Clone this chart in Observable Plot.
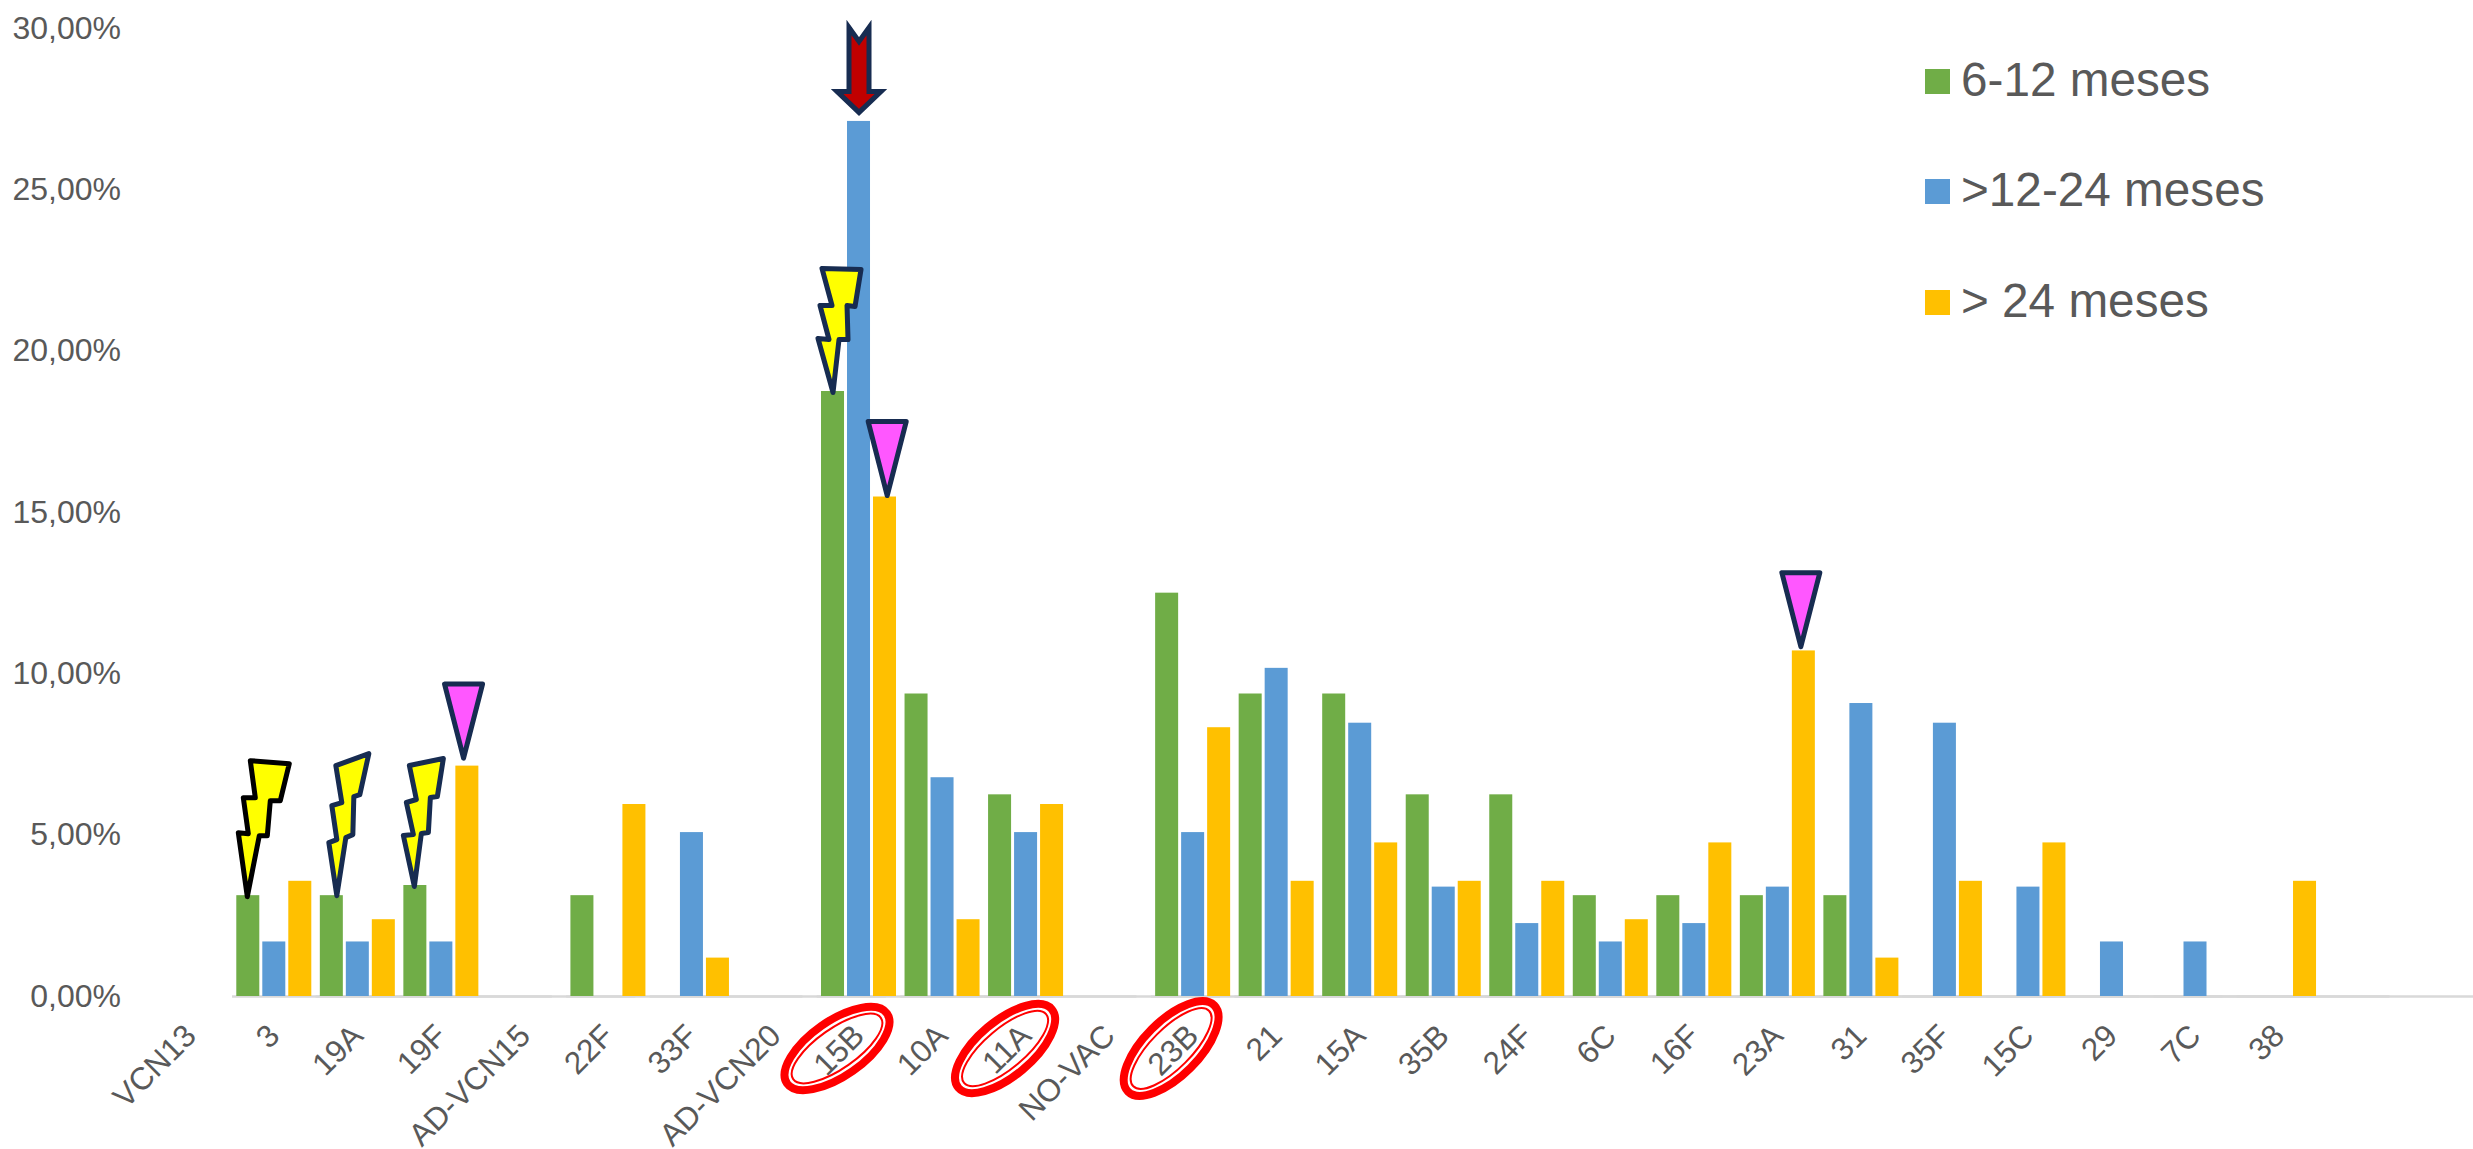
<!DOCTYPE html>
<html lang="es">
<head>
<meta charset="utf-8">
<title>Serotipos por grupo de edad</title>
<script src="https://cdn.jsdelivr.net/npm/d3@7"></script>
<script src="https://cdn.jsdelivr.net/npm/@observablehq/plot@0.6"></script>
<style>
  html, body { margin: 0; padding: 0; background: #fff; overflow: hidden; }
  #chart { position: relative; width: 2473px; height: 1149px; font-family: "Liberation Sans", Arial, sans-serif; }
  #chart svg { display: block; }
  .key { position: absolute; left: 1925px; display: flex; align-items: center; color: #595959; font-size: 47.7px; line-height: 1; white-space: pre; }
  .key i { display: block; width: 25px; height: 25px; margin-right: 11px; }
  .key span { position: relative; top: -2px; }
</style>
</head>
<body>
<div id="chart"></div>
<script>
// Serotypes along the x axis, grouped under their vaccine headings
const categories = ["VCN13", "3", "19A", "19F", "AD-VCN15", "22F", "33F", "AD-VCN20", "15B", "10A", "11A", "NO-VAC", "23B", "21", "15A", "35B", "24F", "6C", "16F", "23A", "31", "35F", "15C", "29", "7C", "38"];

// Share of isolates per age group, in percent
const age6to12 = [null, 3.125, 3.125, 3.44, null, 3.125, null, null, 18.75, 9.375, 6.25, null, 12.5, 9.375, 9.375, 6.25, 6.25, 3.125, 3.125, 3.125, 3.125, null, null, null, null, null];
const age12to24 = [null, 1.69, 1.69, 1.69, null, null, 5.08, null, 27.12, 6.78, 5.08, null, 5.08, 10.17, 8.47, 3.39, 2.26, 1.69, 2.26, 3.39, 9.08, 8.47, 3.39, 1.69, 1.69, null];
const ageOver24 = [null, 3.57, 2.38, 7.14, null, 5.95, 1.19, null, 15.48, 2.38, 5.95, null, 8.33, 3.57, 4.76, 3.57, 3.57, 2.38, 4.76, 10.71, 1.19, 3.57, 4.76, null, null, 3.57];

const seriesNames = ["6-12 meses", ">12-24 meses", "> 24 meses"];
const seriesColors = ["#70AD47", "#5B9BD5", "#FFC000"];
const yTicks = [0, 5, 10, 15, 20, 25, 30];

const rows = [age6to12, age12to24, ageOver24].flatMap((values, s) =>
  values.map((value, i) => ({category: categories[i], series: seriesNames[s], value}))
    .filter((d) => d.value !== null));

const percent = (v) => v.toFixed(2).replace(".", ",") + "%";
const valueOf = (category, series) => rows.find((d) => d.category === category && d.series === series).value;

// Custom symbols for the annotations; each one points at the origin of its dot
const polygon = (points) => ({
  draw(context) {
    points.forEach(([x, y], i) => (i ? context.lineTo(x, y) : context.moveTo(x, y)));
    context.closePath();
  }
});

const ellipse = (a, b, degrees) => ({
  draw(context) {
    const t = (degrees * Math.PI) / 180, k = 0.5523;
    const p = (x, y) => [x * Math.cos(t) - y * Math.sin(t), x * Math.sin(t) + y * Math.cos(t)];
    context.moveTo(...p(a, 0));
    context.bezierCurveTo(...p(a, k * b), ...p(k * a, b), ...p(0, b));
    context.bezierCurveTo(...p(-k * a, b), ...p(-a, k * b), ...p(-a, 0));
    context.bezierCurveTo(...p(-a, -k * b), ...p(-k * a, -b), ...p(0, -b));
    context.bezierCurveTo(...p(k * a, -b), ...p(a, -k * b), ...p(a, 0));
    context.closePath();
  }
});

const bolts = [
  {category: "3", stroke: "#000000", shape: [[2,-135],[41,-132],[32,-95],[22,-95],[19,-60],[11,-60],[-1,1],[-10,-63],[0,-62],[-5,-98],[7,-98]]},
  {category: "19A", stroke: "#172C51", shape: [[4,-130],[37,-142],[28,-101],[22,-99],[21,-61],[14,-58],[5,0],[-3,-53],[5,-56],[0,-90],[10,-93]]},
  {category: "19F", stroke: "#172C51", shape: [[-6,-120],[28,-127],[22,-89],[15,-88],[13,-53],[6,-52],[-1,1],[-12,-50],[-2,-51],[-9,-83],[1,-86]]},
  {category: "15B", stroke: "#172C51", shape: [[-11,-123],[28,-122],[22,-85],[14,-86],[15,-52],[6,-52],[0,1],[-15,-53],[-4,-52],[-13,-86],[-1,-86]]}
];

const wedges = [
  {category: "19F", dx: -3.8, dy: -8},
  {category: "15B", dx: 2.2, dy: -1.5},
  {category: "23A", dx: -3, dy: -4.2}
];

const circled = [
  {category: "15B", angle: -35, dx: -22},
  {category: "11A", angle: -40, dx: -21},
  {category: "23B", angle: -45, dx: -22}
];

const arrowShape = [[-10,-94],[0,-80],[10,-94],[10,-30],[22,-30],[0,-9],[-22,-30],[-10,-30]];

const ink = "#595959";

const plot = Plot.plot({
  width: 2473,
  height: 1149,
  marginLeft: 148.5,
  marginRight: 152.7,
  marginTop: 28,
  marginBottom: 153,
  style: {background: "#fff", fontFamily: "'Liberation Sans', Arial, sans-serif", overflow: "visible"},
  fx: {domain: categories, padding: 0, axis: null, label: null, round: false},
  x: {domain: seriesNames, paddingInner: 0.115, paddingOuter: 0.164, axis: null, round: false},
  y: {domain: [0, 30], axis: null, label: null},
  color: {domain: seriesNames, range: seriesColors},
  marks: [
    // Baseline repeated in every facet; the overhang carries it to the page edge
    Plot.ruleY([0], {stroke: "#D9D9D9", strokeWidth: 2.5, insetRight: -152.7}),
    Plot.barY(rows, {fx: "category", x: "series", y: "value", fill: "series"}),
    Plot.axisY({ticks: yTicks, tickFormat: percent, tickSize: 0, tickPadding: 28, fontSize: 32, fill: ink, label: null, facetAnchor: "left"}),
    Plot.axisFx({anchor: "bottom", tickRotate: -45, tickSize: 0, tickPadding: 34, fontSize: 31.5, fill: ink, label: null}),

    // Lightning bolts over the 6-12 month bars
    ...bolts.map((b) => Plot.dot([b], {
      fx: "category",
      x: () => seriesNames[0],
      y: (d) => valueOf(d.category, seriesNames[0]),
      symbol: polygon(b.shape),
      fill: "#FFFF00",
      stroke: b.stroke,
      strokeWidth: 5,
      strokeLinejoin: "round"
    })),

    // Downward wedges over the oldest age group
    ...wedges.map((w) => Plot.dot([w], {
      fx: "category",
      x: () => seriesNames[2],
      y: (d) => valueOf(d.category, seriesNames[2]),
      dx: w.dx,
      dy: w.dy,
      symbol: polygon([[-19,-74],[19,-74],[0,0]]),
      fill: "#FF57FF",
      stroke: "#172C51",
      strokeWidth: 5,
      strokeLinejoin: "round"
    })),

    // Arrow marking the tallest bar
    Plot.dot([{category: "15B"}], {
      fx: "category",
      x: () => seriesNames[1],
      y: (d) => valueOf(d.category, seriesNames[1]),
      symbol: polygon(arrowShape),
      fill: "#C00000",
      stroke: "#172C51",
      strokeWidth: 5,
      strokeLinejoin: "miter"
    }),

    // Double red rings around the highlighted serotype labels
    ...circled.flatMap((c) => [
      Plot.dot([c], {fx: "category", y: () => 0, dx: c.dx, dy: 52, symbol: ellipse(61, 27.5, c.angle), fill: "none", stroke: "#FF0000", strokeWidth: 8}),
      Plot.dot([c], {fx: "category", y: () => 0, dx: c.dx, dy: 52, symbol: ellipse(53.5, 20, c.angle), fill: "none", stroke: "#FF0000", strokeWidth: 2})
    ])
  ]
});

const chart = document.getElementById("chart");
chart.append(plot);

// Legend placed in the upper right corner of the chart area
const legendTops = [58, 168, 279];
seriesNames.forEach((name, i) => {
  const item = document.createElement("div");
  item.className = "key";
  item.style.top = legendTops[i] + "px";
  const swatch = document.createElement("i");
  swatch.style.background = seriesColors[i];
  const label = document.createElement("span");
  label.textContent = name;
  item.append(swatch, label);
  chart.append(item);
});
</script>
</body>
</html>
